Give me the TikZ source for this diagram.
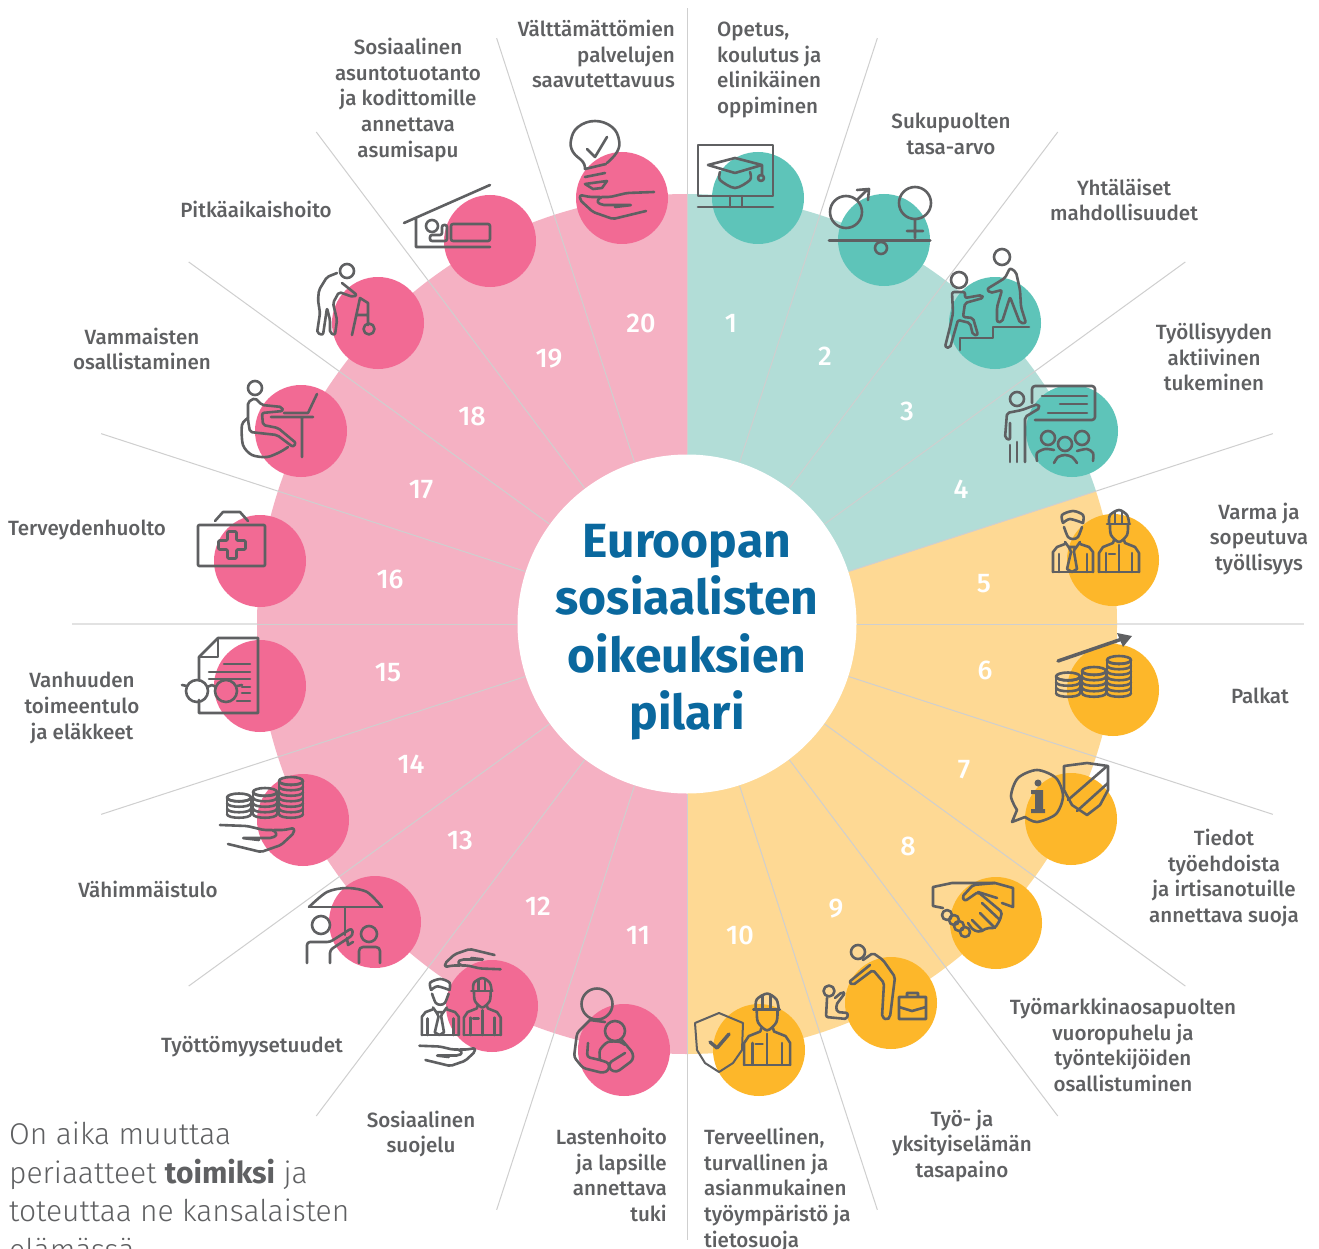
\documentclass[tikz,border=0pt]{standalone}
\usepackage{fontspec}
\setmainfont{Fira Sans Medium}[BoldFont=Fira Sans Bold]
\newfontfamily\lightfont{Fira Sans Light}[BoldFont=Fira Sans Bold]
\usepackage{tikz}
\usetikzlibrary{positioning}
\definecolor{tealpale}{HTML}{B2DDD7}
\definecolor{tealdot}{HTML}{5EC4B9}
\definecolor{yellowpale}{HTML}{FED994}
\definecolor{yellowdot}{HTML}{FDB72A}
\definecolor{pinkpale}{HTML}{F5B1C3}
\definecolor{pinkdot}{HTML}{F26A94}
\definecolor{icongray}{HTML}{5F6062}
\definecolor{spokegray}{HTML}{CFCFCF}
\definecolor{titleblue}{HTML}{0A689E}
\tikzset{
  icon/.style={draw=icongray, line width=2.6pt, line cap=round, line join=round},
  dot/.style={circle, inner sep=0pt, minimum size=92pt},
  num/.style={text=white, inner sep=0pt, font=\fontsize{27}{27}\selectfont},
  lab/.style={text=icongray, inner sep=0pt, align=center, font=\fontsize{20.6}{25.7}\selectfont}
}
% reusable bits of the icons, drawn from a local origin
\newcommand{\officeman}[2]{
  \begin{scope}[shift={(#1)}, scale=#2]
    \draw[icon] plot[smooth] coordinates {(11,-50)(10,-58)(21,-62)(31,-58)(31,-50)};
    \draw[icon] plot[smooth] coordinates {(12,-46)(16,-36)(21,-34)(26,-36)(30,-46)};
    \draw[icon] plot[smooth] coordinates {(11,-50)(18,-54)(31,-50)};
    \draw[icon] (1,-1) -- (1,-21) -- (5,-26) -- (13,-29);
    \draw[icon] (41,-1) -- (41,-21) -- (37,-26) -- (28,-29);
    \draw[icon] (7,-1) -- (7,-19) (35,-1) -- (35,-19) (1,-1) -- (41,-1);
    \draw[icon] (17,-26) -- (23,-26) -- (22,-21) -- (25,-4) -- (20,-1) -- (15,-4) -- (19,-21) -- cycle;
    \draw[icon] (13,-31) -- (18,-24) (28,-31) -- (23,-24);
  \end{scope}
}
\newcommand{\workerman}[2]{
  \begin{scope}[shift={(#1)}, scale=#2]
    \draw[icon] plot[smooth] coordinates {(11,-50)(12,-58)(21,-63)(29,-58)(31,-50)};
    \draw[icon] (9,-49) -- (32,-49) (17,-61) -- (17,-50) (24,-61) -- (24,-50);
    \draw[icon] plot[smooth] coordinates {(12,-48)(13,-38)(21,-31)(29,-38)(30,-48)};
    \draw[icon] (1,-1) -- (1,-20) -- (5,-26) -- (15,-30) -- (16,-33);
    \draw[icon] (41,-1) -- (41,-20) -- (37,-26) -- (27,-30) -- (26,-33);
    \draw[icon] (21,-28) -- (21,-1) (8,-1) -- (8,-20) (34,-1) -- (34,-20);
    \draw[icon] (11,-19) -- (17,-19) (1,-1) -- (41,-1);
  \end{scope}
}
\newcommand{\handicon}[3]{
  \begin{scope}[shift={(#1)}, xscale=#2, yscale=#3]
    \draw[icon, rounded corners=2pt] (74,-3) -- (47,-2) -- (30,2) -- (20,2) -- (17,7) -- (22,10) -- (52,10) -- (35,12);
    \draw[icon, rounded corners=2pt] (20,2) -- (10,2) -- (0,0) -- (0,5) -- (13,17) -- (33,24) -- (66,16);
  \end{scope}
}
\newcommand{\coinstack}[3]{
  \begin{scope}[shift={(#1,#2)}]
    \pgfmathsetmacro{\tp}{-5.5*#3}
    \draw[icon] (0,\tp) ellipse [x radius=12, y radius=4];
    \draw[icon] (-12,\tp) -- (-12,0) (12,\tp) -- (12,0);
    \foreach \k in {0,...,#3} {
      \pgfmathsetmacro{\yy}{-5.5*\k}
      \draw[icon] (-12,\yy) .. controls (-12,\yy+5) and (12,\yy+5) .. (12,\yy);
    }
  \end{scope}
}
\begin{document}
\begin{tikzpicture}[x=1pt,y=-1pt]
  \clip (0,0) rectangle (1319,1249);
  \fill[white] (0,0) rectangle (1319,1249);
  % the long horizontal rule sits under the sectors
  \coordinate (ruleW) at (72,624);
  \coordinate (ruleE) at (1304,624);
  \draw[spokegray!60, line width=1.7pt] (ruleW) -- (ruleE);
  % draw the three coloured sectors
  \begin{scope}[shift={(687,624)}]
    \fill[pinkpale] (0,0) -- (90:430) arc [start angle=90, end angle=270, radius=430] -- cycle;
    \fill[yellowpale] (0,0) -- (-18:430) arc [start angle=-18, end angle=90, radius=430] -- cycle;
    \fill[tealpale] (0,0) -- (-90:430) arc [start angle=-90, end angle=-18, radius=430] -- cycle;
    % draw spokes
    \foreach \step/\a/\r in {0/-90/616,1/-72/616,2/-53/616,3/-36/616,4/-18/616,5/0/430,6/18/616,7/36/616,8/53/616,9/72/616,
      10/90/616,11/108/616,12/127/616,13/144/616,14/162/616,15/180/430,16/198/616,17/216/616,18/233/616,19/252/616} {
      \coordinate (sa\step) at (\a:170);
      \coordinate (sb\step) at (\a:\r);
      \draw[spokegray, line width=1pt] (sa\step) -- (sb\step);
    }
  \end{scope}
  % draw dots and numbers
  \foreach \step/\col/\dx/\dy/\nx/\ny in {1/tealdot/758/198/731/323,2/tealdot/884/240/825/356,3/tealdot/995/323/907/411,4/tealdot/1072/431/961/489,
    5/yellowdot/1113/560/984/584,6/yellowdot/1113/690/985/670,7/yellowdot/1071/819/964/770,8/yellowdot/996/923/908/846,9/yellowdot/891/1003/836/909,10/yellowdot/759/1050/740/935,
    11/pinkdot/624/1050/638/935,12/pinkdot/492/1006/538/906,13/pinkdot/375/922/460/840,14/pinkdot/303/820/411/764,15/pinkdot/260/686/388/673,
    16/pinkdot/260/561/390/579,17/pinkdot/301/431/421/490,18/pinkdot/378/323/472/416,19/pinkdot/490/241/549/359,20/pinkdot/622/198/641/323} {
    \node[dot, fill=\col] (d\step) at (\dx,\dy) {};
    \node[num] (n\step) at (\nx,\ny) {\step};
  }
  % centre disc with the title
  \node[circle, fill=white, inner sep=0pt, minimum size=339pt] (hub) at (687,624) {};
  \foreach \step/\py/\txt in {1/557/Euroopan,2/614/sosiaalisten,3/672/oikeuksien,4/729/pilari}
    \node[inner sep=0pt, anchor=base, text=titleblue, font=\fontsize{48}{48}\bfseries\selectfont] (t\step) at (687,\py) {\txt};
  % draw labels
  \foreach \step/\px/\py/\txt in {2/951/134/{Sukupuolten\\tasa-arvo},3/1124/200/{Yhtäläiset\\mahdollisuudet},
    4/1214/357/{Työllisyyden\\aktiivinen\\tukeminen},5/1259/539/{Varma ja\\sopeutuva\\työllisyys},6/1260/696/{Palkat},
    7/1224/878/{Tiedot\\työehdoista\\ja irtisanotuille\\annettava suoja},
    8/1123/1045/{Työmarkkinaosapuolten\\vuoropuhelu ja\\työntekijöiden\\osallistuminen},
    9/962/1146/{Työ- ja\\yksityiselämän\\tasapaino},12/421/1134/{Sosiaalinen\\suojelu},13/252/1047/{Työttömyysetuudet},
    14/148/889/{Vähimmäistulo},15/82/708/{Vanhuuden\\toimeentulo\\ja eläkkeet},16/87/530/{Terveydenhuolto},
    17/142/349/{Vammaisten\\osallistaminen},18/256/209/{Pitkäaikaishoito},
    19/408/100/{Sosiaalinen\\asuntotuotanto\\ja kodittomille\\annettava\\asumisapu}}
    \node[lab] (l\step) at (\px,\py) {\txt};
  \node[lab, align=left, anchor=west] (l1) at (717,70) {Opetus,\\koulutus ja\\elinikäinen\\oppiminen};
  \node[lab, align=left, anchor=west] (l10) at (704,1190) {Terveellinen,\\turvallinen ja\\asianmukainen\\työympäristö ja\\tietosuoja};
  \node[lab, align=right, anchor=east] (l11) at (667,1175) {Lastenhoito\\ja lapsille\\annettava\\tuki};
  \node[lab, align=right, anchor=east] (l20) at (675,54) {Välttämättömien\\palvelujen\\saavutettavuus};
  % slogan, runs off the bottom edge
  \node[inner sep=0pt, anchor=north west, align=left, text=icongray, font=\lightfont\fontsize{30}{38.5}\selectfont] (slogan) at (9,1122)
    {On aika muuttaa\\periaatteet \textbf{toimiksi} ja\\toteuttaa ne kansalaisten\\elämässä};
  % icon 1
  \draw[icon] (698,145) rectangle (773,196) (730,196) -- (730,207) (742,196) -- (742,207) (698,207) -- (773,207);
  \draw[icon] (708,165) -- (735,158) -- (762,165) -- (735,173) -- cycle (762,165) -- (762,175);
  \draw[icon] plot[smooth] coordinates {(720,172)(720,180)(735,188)(750,180)(750,172)};
  \draw[icon] (761,178) circle [radius=3];
  % icon 2
  \draw[icon] (846,212) circle [radius=16] (857,200) -- (868,189) (857,190) -- (869,189) -- (868,200);
  \draw[icon] (915,203) circle [radius=16] (915,220) -- (915,238) (907,231) -- (923,231);
  \draw[icon, line width=3pt] (829,241) -- (930,241);
  \draw[icon] (881,248) circle [radius=6];
  % icon 3
  \draw[icon] (1002,257) circle [radius=8] (959,280) circle [radius=8];
  \draw[icon] (960,350) -- (960,338) -- (993,338) -- (993,327) -- (1029,327);
  \draw[icon, rounded corners=2pt] (1010,268) -- (1016,272) -- (1020,290) -- (1021,307) -- (1026,323) -- (1020,323) -- (1010,297) -- (1002,322) -- (997,322) -- (997,307) -- (1002,290) -- (990,293) -- (987,289) -- (1005,278) -- cycle;
  \draw[icon, rounded corners=2pt] (952,292) -- (965,292) -- (965,298) -- (982,295) -- (983,298) -- (965,303) -- (963,317) -- (973,318) -- (978,335) -- (973,335) -- (970,323) -- (958,320) -- (950,348) -- (945,347) -- (950,327) -- (953,313) -- cycle;
  % icon 4
  \draw[icon] (1017,399) circle [radius=7];
  \draw[icon, rounded corners=3pt] (1032,403) -- (1032,386) -- (1095,386) -- (1095,420) -- (1035,420);
  \draw[icon] (1042,396) -- (1087,396) (1060,404) -- (1087,404) (1048,413) -- (1087,413);
  \draw[icon] (1010,462) -- (1010,445) (1017,462) -- (1017,442);
  \draw[icon, rounded corners=2pt] (1025,462) -- (1025,417) -- (1040,408) -- (1038,404) -- (1022,410) -- (1007,413) -- (1005,438) -- (1010,440) -- (1010,423);
  \draw[icon] (1048,438) circle [radius=7] (1065,444) circle [radius=7] (1082,438) circle [radius=7];
  \draw[icon] plot[smooth] coordinates {(1037,461)(1037,453)(1045,449)(1054,450)};
  \draw[icon] plot[smooth] coordinates {(1054,463)(1058,457)(1065,455)(1072,457)(1077,463)};
  \draw[icon] plot[smooth] coordinates {(1077,451)(1087,449)(1093,453)(1093,461)};
  % icon 5
  \officeman{1052,573}{1}
  \workerman{1098,573}{1}
  % icon 6
  \coinstack{1068}{693}{3}
  \coinstack{1094}{693}{4}
  \coinstack{1119}{693}{6}
  \draw[icon, line width=3.5pt] (1058,661) -- (1122,639);
  \fill[icongray] (1117,633) -- (1132,636) -- (1123,647) -- cycle;
  % icon 7
  \draw[icon] (1017,810) -- (1012,822) -- (1025,817);
  \draw[icon] plot[smooth] coordinates {(1017,810)(1011,796)(1018,778)(1037,770)(1056,778)(1063,796)(1056,814)(1037,822)(1025,817)};
  \fill[icongray] (1038,783) circle [radius=3.5];
  \fill[icongray] (1031,790) -- (1043,790) -- (1043,809) -- (1045,809) -- (1045,813) -- (1031,813) -- (1031,809) -- (1035,809) -- (1035,794) -- (1031,794) -- cycle;
  \draw[icon] (1064,766) -- (1087,763) -- (1108,766) -- (1108,790) -- (1100,805) -- (1087,815) -- (1072,805) -- (1064,790) -- cycle;
  \draw[icon] (1068,800) -- (1106,767) (1077,811) -- (1108,783);
  % icon 8
  \draw[icon] (943,908) -- (933,906) -- (933,887) -- (952,883) -- (995,883) -- (1013,888) -- (1013,907) -- (1002,903);
  \draw[icon] (947,915) circle [radius=5] (954,920) circle [radius=5] (959,926) circle [radius=5] (965,932) circle [radius=5];
  \draw[icon, rounded corners=2pt] (995,883) -- (973,885) -- (962,897) -- (965,901) -- (978,892) -- (1002,912) -- (1000,920) -- (995,928) -- (987,928) -- (980,932) -- (973,930) -- (968,923);
  \draw[icon] (982,903) -- (1000,920) (980,913) -- (995,928) (972,920) -- (982,930) (978,892) -- (997,898);
  % icon 9
  \draw[icon] (858,952) circle [radius=7] (829,991) circle [radius=5.5];
  \draw[icon, rounded corners=2pt] (863,960) -- (873,953) -- (883,960) -- (895,977) -- (890,1017) -- (887,1020) -- (882,1017) -- (884,983) -- (873,970) -- (853,985) -- (849,982) -- (870,965);
  \draw[icon, rounded corners=2pt] (827,998) -- (826,1017) -- (847,1019) -- (848,1013) -- (837,1012) -- (836,1005) -- (845,993) -- (842,992) -- (835,998);
  \draw[icon] (899,997) rectangle (926,1019) (907,997) -- (907,993) -- (918,993) -- (918,997) (899,1007) -- (912,1011) -- (926,1007);
  % icon 10
  \draw[icon, line width=2pt] (695,1023) -- (719,1013) -- (743,1023) -- (742,1050) -- (733,1063) -- (719,1072) -- (705,1063) -- (697,1050) -- cycle;
  \draw[icon, line width=3.5pt] (710,1042) -- (717,1048) -- (729,1034);
  \workerman{743,1066}{1.15}
  % icon 11
  \draw[icon] (597,1004) circle [radius=15.5] (615,1031) circle [radius=10];
  \draw[icon] (590,1020) -- (605,1022);
  \draw[icon, rounded corners=3pt] (590,1020) -- (577,1033) -- (574,1057) -- (583,1068) -- (603,1073) -- (609,1070) -- (609,1063) -- (600,1060) -- (587,1057) -- (588,1043);
  \draw[icon] plot[smooth] coordinates {(600,1060)(600,1050)(608,1042)(620,1042)(625,1045)};
  \draw[icon, rounded corners=3pt] (622,1040) -- (633,1053) -- (633,1060) -- (617,1072) -- (610,1070) -- (609,1063) -- (625,1053);
  % icon 12
  \officeman{421,1036}{.92}
  \workerman{463,1036}{.92}
  \handicon{445,967}{.75}{-.75}
  \handicon{475,1048}{-.75}{.75}
  % icon 13
  \draw[icon] plot[smooth] coordinates {(309,907)(327,892)(347,888)(367,892)(382,907)};
  \draw[icon] (309,907) -- (382,907) (345,907) -- (345,935);
  \draw[icon] (321,925) circle [radius=9] (369,934) circle [radius=8];
  \draw[icon, rounded corners=3pt] (307,963) -- (307,942) -- (330,942) -- (352,928) -- (353,935) -- (330,950) -- (330,963);
  \draw[icon] (347,938) -- (348,945) -- (353,942);
  \draw[icon, rounded corners=4pt] (359,963) -- (359,947) -- (380,947) -- (380,963);
  % icon 14
  \coinstack{239}{814}{3}
  \coinstack{265}{814}{4}
  \coinstack{291}{814}{6}
  \handicon{294,828}{-1}{1}
  % icon 15
  \draw[icon] (199,680) -- (199,657) -- (218,638) -- (258,638) -- (258,713) -- (199,713) -- (199,700);
  \draw[icon] (218,638) -- (218,657) -- (199,657);
  \draw[icon] (224,664) -- (250,664) (209,672) -- (250,672) (209,679) -- (250,679) (242,687) -- (250,687) (242,693) -- (250,693) (237,701) -- (250,701);
  \draw[icon] (197,691) circle [radius=11] (226,691) circle [radius=11];
  \draw[icon] (207,687) -- (212,685) -- (216,687) (182,685) -- (187,686) (237,686) -- (242,685);
  % icon 16
  \draw[icon, rounded corners=1pt] (198,525) rectangle (265,566);
  \draw[icon] (215,521) -- (223,512) -- (240,512) -- (248,521);
  \draw[icon, rounded corners=1pt] (227.5,531.5) -- (236.5,531.5) -- (236.5,540.5) -- (245.5,540.5) -- (245.5,549.5) -- (236.5,549.5) -- (236.5,558.5) -- (227.5,558.5) -- (227.5,549.5) -- (218.5,549.5) -- (218.5,540.5) -- (227.5,540.5) -- cycle;
  % icon 17
  \draw[icon] (255,388) circle [radius=7];
  \draw[icon, rounded corners=2pt] (248,402) -- (255,398) -- (262,405) -- (282,407) -- (283,411) -- (262,413) -- (263,425) -- (278,428) -- (296,443) -- (293,447) -- (277,435) -- (250,432) -- (248,420) -- cycle;
  \draw[icon] plot[smooth] coordinates {(248,418)(242,425)(243,445)(252,455)(267,457)(280,452)(288,447)};
  \draw[icon] (271,417) -- (313,417) (302,417) -- (302,457) (284,413) -- (308,413) -- (317,394);
  % icon 18
  \draw[icon] (347,271) circle [radius=7];
  \draw[icon, rounded corners=2pt] (337,273) -- (327,277) -- (319,290) -- (318,300) -- (320,313) -- (317,333) -- (323,335) -- (327,308) -- (330,320) -- (330,333) -- (335,335) -- (337,320) -- (333,303) -- (339,292) -- (353,297) -- (357,295) -- (342,283);
  \draw[icon] (352,335) -- (360,298) -- (368,303) -- (368,325) (357,315) -- (368,315);
  \draw[icon] (369,329) circle [radius=5.5];
  % icon 19
  \draw[icon] (404,223) -- (490,185) (416,218) -- (416,247) -- (490,247);
  \draw[icon] (432,226) circle [radius=6];
  \draw[icon, rounded corners=2pt] (451,224) rectangle (490,241);
  \draw[icon, rounded corners=2pt] (430,235) -- (442,235) -- (442,225) -- (447,225) -- (447,241) -- (430,241) -- cycle;
  % icon 20
  \draw[icon] plot[smooth, tension=.7] coordinates {(585,169)(583,162)(573,152)(571,140)(578,127)(595,121)(612,127)(619,140)(617,152)(607,163)};
  \draw[icon] (585,169) -- (606,164) (585,177) -- (605,173) (587,149) -- (595,157) -- (607,137);
  \draw[icon] (585,184) -- (607,181) -- (602,188) -- (593,189) -- cycle;
  \handicon{580,195}{1}{1}
\end{tikzpicture}
\end{document}
